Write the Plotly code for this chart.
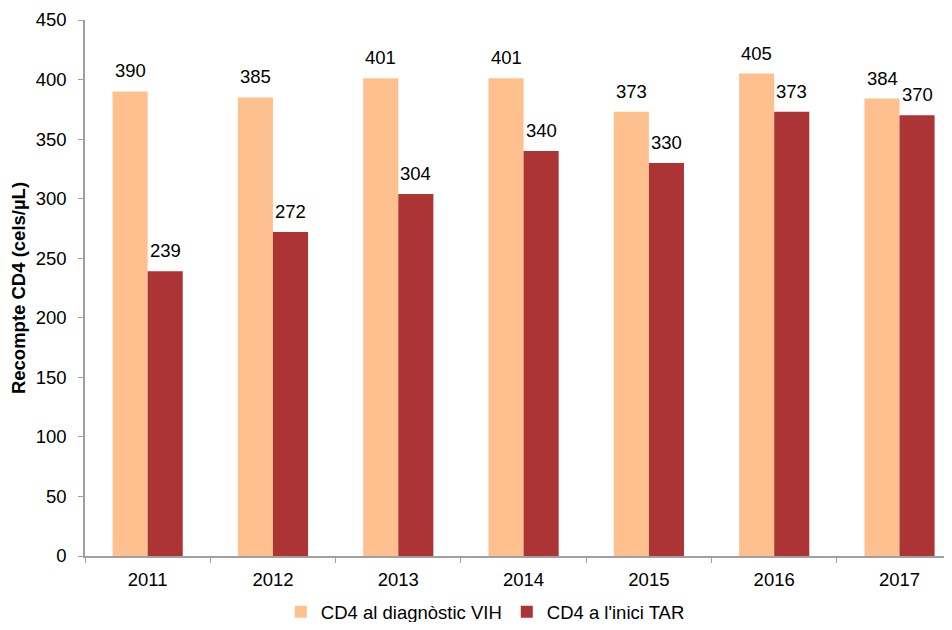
import plotly.graph_objects as go

years = ["2011", "2012", "2013", "2014", "2015", "2016", "2017"]
cd4_diag = [390, 385, 401, 401, 373, 405, 384]
cd4_tar = [239, 272, 304, 340, 330, 373, 370]
series_names = ["CD4 al diagnòstic VIH", "CD4 a l'inici TAR"]
y_ticks = [0, 50, 100, 150, 200, 250, 300, 350, 400, 450]

FONT = "Liberation Sans, Arial, sans-serif"
FS = 18.5
LIGHT = "#FFC08F"
DARK = "#AC3434"

fig = go.Figure()
fig.add_trace(go.Bar(x=years, y=cd4_diag, name=series_names[0],
                     marker=dict(color=LIGHT, line=dict(width=0))))
fig.add_trace(go.Bar(x=years, y=cd4_tar, name=series_names[1],
                     marker=dict(color=DARK, line=dict(width=0))))

annotations = []
for series, shift in ((cd4_diag, -17.5), (cd4_tar, 17.5)):
    for i, v in enumerate(series):
        annotations.append(dict(
            x=i, y=v, xref="x", yref="y", text=str(v), showarrow=False,
            xanchor="center", yanchor="bottom", xshift=shift, yshift=8,
            font=dict(size=FS, color="black", family=FONT),
        ))

# the page body adds an 8px margin; size the figure to fit inside the window
fig.update_layout(
    width=936, height=614,
    margin=dict(l=77, r=0, t=12, b=66),
    paper_bgcolor="white", plot_bgcolor="white",
    font=dict(family=FONT, size=FS, color="black"),
    barmode="group", bargap=0.44, bargroupgap=0,
    showlegend=True,
    legend=dict(orientation="h", xref="paper", yref="container",
                x=0.466, xanchor="center", y=0.016, yanchor="middle",
                font=dict(size=FS), itemwidth=30, tracegroupgap=0),
    annotations=annotations,
)
fig.update_xaxes(
    type="category", range=[-0.5, 6.355], automargin=False,
    showline=True, linecolor="#A0A0A0", linewidth=1.5,
    ticks="outside", tickson="boundaries", ticklen=5, tickcolor="#A0A0A0",
    tickfont=dict(size=FS), ticklabelstandoff=6, showgrid=False,
)
fig.update_yaxes(
    range=[0, 450], tickvals=y_ticks, automargin=False,
    showline=True, linecolor="#A0A0A0", linewidth=1.5,
    ticks="outside", ticklen=5, tickcolor="#A0A0A0",
    tickfont=dict(size=FS), ticklabelstandoff=8, showgrid=False, zeroline=False,
    title=dict(text="<b>Recompte CD4 (cels/µL)</b>", font=dict(size=FS), standoff=6),
)

fig.write_html("out.html")
